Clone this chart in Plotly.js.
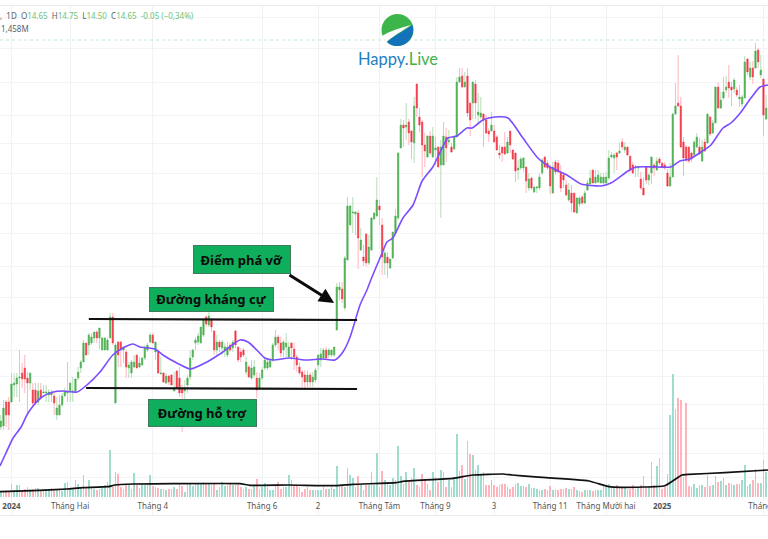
<!DOCTYPE html>
<html><head><meta charset="utf-8">
<script src="https://cdn.plot.ly/plotly-3.0.1.min.js"></script>
<style>html,body{margin:0;padding:0;background:#fff}#c{width:768px;height:539px}</style>
</head><body><div id="c"></div>
<script>
const high=[7.15,7.45,7.45,7.51,7.99,7.99,7.99,8.45,8.19,8.35,
8.01,7.99,7.79,7.79,7.79,7.79,7.75,7.75,7.67,7.65,
7.61,7.51,7.55,7.59,7.69,8.21,7.79,7.91,7.89,8.11,
8.25,8.65,8.59,8.79,8.79,8.81,8.85,8.89,8.71,8.71,
8.69,9.19,9.19,8.59,8.63,8.63,8.51,8.45,8.21,8.25,
8.35,8.35,8.31,8.31,8.55,8.59,8.79,8.79,8.61,8.45,
8.31,8.01,7.99,7.95,7.97,8.01,8.05,8.11,7.75,7.85,
7.95,8.45,8.47,8.71,8.79,8.91,9.09,9.15,9.25,9.09,
8.85,8.75,8.65,8.65,8.59,8.61,8.59,8.65,8.85,8.51,
8.49,8.49,8.31,8.15,8.25,8.25,8.01,7.99,8.11,8.29,
8.29,8.29,8.59,8.85,8.75,8.71,8.65,8.79,8.61,8.61,
8.59,8.35,8.21,8.05,8.05,8.05,8.01,8.01,8.09,8.35,
8.49,8.49,8.51,8.49,8.47,8.51,9.79,9.81,9.81,10.33,
11.51,11.35,11.51,11.23,11.25,10.89,10.55,10.79,10.75,11.11,
11.21,11.91,11.45,11.09,10.45,10.41,10.29,10.81,11.27,12.39,
13.07,13.05,13.39,13.07,12.85,13.51,13.77,13.29,13.05,12.79,
12.75,12.83,12.91,12.71,12.51,12.65,13.01,12.89,12.85,12.59,
12.71,13.91,14.09,14.09,14.01,14.09,13.39,13.81,13.85,13.59,
13.51,13.19,13.15,12.89,13.21,12.95,12.75,12.55,12.51,12.81,
12.71,12.83,12.45,12.39,12.25,12.31,12.31,12.11,11.99,11.91,
11.71,11.73,11.99,12.29,12.33,12.25,12.15,12.21,12.25,12.25,
12.15,11.99,11.85,11.79,11.75,11.59,11.51,11.53,11.55,11.65,
11.85,12.05,12.05,12.05,12.05,11.99,11.99,12.01,12.45,12.41,
12.39,12.41,12.59,12.69,12.61,12.51,12.33,12.21,12.15,12.13,
12.01,11.91,12.11,11.99,12.31,12.19,12.31,12.31,12.21,12.21,
12.07,12.19,13.19,13.79,14.35,13.51,12.71,12.55,12.51,12.41,
12.65,12.79,12.69,12.65,12.69,13.17,13.13,13.05,13.71,13.81,
13.61,13.91,13.93,14.15,13.81,13.89,13.71,13.75,13.55,14.33,
14.29,14.21,14.23,14.59,14.49,14.35,13.87,13.55];
const low=[6.85,6.85,6.91,6.85,7.39,7.51,7.51,7.41,7.69,7.59,
7.15,7.65,7.31,7.35,7.35,7.45,7.59,7.41,7.41,7.41,
7.15,7.05,7.15,7.31,7.53,7.41,7.41,7.41,7.61,7.85,
7.99,8.21,8.35,8.35,8.55,8.59,8.59,8.47,8.45,8.45,
8.45,8.69,8.55,7.39,8.11,8.11,8.19,7.89,7.89,7.89,
8.09,8.09,8.09,8.13,8.25,8.41,8.59,8.59,8.25,7.97,
7.97,7.79,7.77,7.75,7.75,7.63,7.69,7.51,6.81,7.45,
7.59,7.85,8.25,8.45,8.55,8.59,8.71,8.91,8.91,8.81,
8.35,8.35,8.41,8.35,8.31,8.31,8.41,8.41,8.49,8.21,
8.21,8.31,7.95,7.89,7.85,7.89,7.49,7.65,7.85,8.05,
8.05,8.09,8.21,8.51,8.45,8.31,8.31,8.31,8.29,8.25,
8.05,8.01,7.95,7.71,7.69,7.71,7.71,7.71,7.79,8.05,
8.11,8.25,8.25,8.29,8.31,8.31,8.85,9.45,9.39,9.25,
10.25,10.95,10.79,10.75,10.07,10.43,10.13,10.11,10.15,10.43,
11.05,11.11,10.95,9.95,9.95,9.89,10.07,10.27,10.77,11.05,
12.49,12.51,12.65,12.55,12.27,12.19,13.11,12.81,11.91,12.11,
12.29,12.35,12.29,12.15,12.11,11.09,12.15,12.21,12.55,12.39,
12.45,12.71,13.79,13.69,13.71,13.11,12.73,13.07,13.07,12.95,
13.07,12.51,12.77,12.61,12.83,12.59,12.43,12.27,12.21,12.35,
12.37,12.39,12.25,11.81,11.85,12.05,12.01,11.59,11.63,11.65,
11.59,11.59,11.65,11.95,12.09,12.05,11.57,11.57,11.95,11.99,
11.61,11.69,11.53,11.41,11.21,11.19,11.19,11.31,11.35,11.37,
11.63,11.75,11.79,11.79,11.79,11.79,11.77,11.77,11.85,12.29,
11.99,12.05,12.37,12.45,12.39,12.33,12.01,11.97,11.91,11.91,
11.65,11.55,11.77,11.75,11.77,11.93,12.03,12.15,12.09,12.05,
11.71,11.71,11.91,13.15,13.31,12.49,11.93,12.21,12.19,12.21,
12.29,12.49,12.35,12.21,12.41,12.57,12.73,12.77,12.99,13.27,
13.27,13.45,13.59,13.49,13.33,13.59,13.51,13.31,13.31,13.49,
13.95,13.85,13.77,14.07,14.09,13.89,12.73,13.05];
const bodyTop=[7.03,7.29,7.41,7.41,7.77,7.79,7.89,7.91,7.99,8.09,
7.89,7.99,7.65,7.65,7.63,7.65,7.61,7.61,7.61,7.61,
7.53,7.29,7.35,7.53,7.61,7.61,7.79,7.63,7.87,8.01,
8.21,8.59,8.59,8.75,8.71,8.81,8.81,8.89,8.69,8.69,
8.65,9.11,9.11,8.55,8.61,8.61,8.51,8.41,8.15,8.21,
8.21,8.35,8.19,8.29,8.49,8.55,8.75,8.75,8.61,8.41,
7.99,7.99,7.93,7.93,7.95,7.69,8.03,7.89,7.69,7.69,
7.89,8.29,8.45,8.65,8.73,8.91,9.05,9.11,9.13,9.05,
8.83,8.61,8.61,8.61,8.51,8.51,8.55,8.61,8.83,8.51,
8.41,8.45,8.21,8.11,8.09,8.11,7.89,7.89,8.05,8.25,
8.21,8.23,8.55,8.71,8.71,8.59,8.61,8.59,8.51,8.59,
8.47,8.31,8.11,8.01,7.95,7.95,7.95,7.91,8.05,8.35,
8.37,8.45,8.45,8.45,8.45,8.51,9.71,9.71,9.67,10.29,
11.33,11.33,11.21,11.21,11.19,10.65,10.31,10.77,10.51,11.09,
11.19,11.45,11.33,10.95,10.39,10.31,10.27,10.81,11.13,12.39,
12.95,12.95,12.95,13.01,12.83,13.33,13.77,13.11,13.01,12.55,
12.73,12.73,12.73,12.49,12.51,12.51,12.73,12.71,12.65,12.51,
12.71,13.81,13.91,13.93,13.81,13.93,13.39,13.81,13.77,13.21,
13.19,13.17,13.05,12.83,12.95,12.83,12.71,12.39,12.51,12.51,
12.61,12.83,12.45,12.39,12.09,12.27,12.29,12.11,11.87,11.89,
11.71,11.71,11.91,12.25,12.31,12.19,12.11,12.11,12.21,12.19,
11.99,11.95,11.75,11.65,11.59,11.59,11.49,11.49,11.51,11.59,
11.79,11.89,12.05,11.91,11.95,11.91,11.91,11.91,12.29,12.35,
12.35,12.39,12.43,12.61,12.51,12.51,12.33,12.15,12.11,12.11,
11.87,11.69,12.11,11.95,12.31,12.15,12.23,12.27,12.19,12.15,
11.99,11.91,13.17,13.33,13.39,13.33,12.61,12.51,12.51,12.39,
12.61,12.71,12.51,12.51,12.61,13.17,13.11,12.99,13.71,13.71,
13.45,13.61,13.71,13.81,13.71,13.85,13.65,13.51,13.51,14.21,
14.27,14.09,14.09,14.43,14.45,14.05,13.87,13.29];
const bodyBottom=[6.91,6.93,7.15,7.15,7.41,7.75,7.77,7.89,7.87,7.87,
7.79,7.79,7.39,7.39,7.41,7.49,7.59,7.59,7.55,7.55,
7.39,7.15,7.15,7.35,7.53,7.59,7.63,7.61,7.63,7.89,
8.09,8.21,8.35,8.55,8.59,8.69,8.69,8.69,8.45,8.45,
8.45,8.69,8.59,7.39,8.35,8.45,8.45,8.11,8.09,7.99,
8.11,8.09,8.11,8.15,8.29,8.45,8.61,8.59,8.41,7.99,
7.97,7.81,7.79,7.81,7.75,7.63,7.69,7.59,7.59,7.63,
7.75,7.91,8.31,8.59,8.61,8.59,8.75,8.97,8.95,8.91,
8.45,8.45,8.51,8.49,8.45,8.35,8.45,8.49,8.55,8.25,
8.31,8.35,8.01,7.91,7.89,7.95,7.65,7.69,7.89,8.09,
8.09,8.11,8.25,8.55,8.59,8.39,8.45,8.51,8.31,8.49,
8.31,8.15,7.99,7.91,7.81,7.81,7.81,7.81,7.85,8.15,
8.25,8.29,8.29,8.35,8.35,8.35,8.85,9.65,9.47,9.29,
10.25,10.95,11.19,11.17,10.69,10.45,10.23,10.19,10.19,10.45,
11.07,11.13,11.25,10.31,10.19,10.19,10.09,10.29,10.79,11.09,
12.49,12.89,12.91,12.79,12.61,12.59,13.29,12.95,12.55,12.43,
12.31,12.39,12.31,12.45,12.11,12.15,12.15,12.49,12.61,12.41,
12.47,12.71,13.81,13.71,13.71,13.19,13.05,13.39,13.39,13.15,
13.11,13.05,12.79,12.77,12.83,12.61,12.45,12.35,12.39,12.37,
12.39,12.55,12.27,12.03,12.05,12.09,12.09,11.83,11.69,11.69,
11.61,11.69,11.69,11.99,12.11,12.09,11.73,11.59,12.01,12.01,
11.69,11.85,11.55,11.45,11.39,11.21,11.19,11.37,11.39,11.39,
11.65,11.77,11.79,11.79,11.81,11.79,11.79,11.79,11.89,12.31,
12.29,12.31,12.39,12.51,12.45,12.35,12.05,11.99,12.09,12.09,
11.69,11.55,11.85,11.85,11.99,12.09,12.05,12.19,12.11,12.09,
11.73,11.73,11.91,13.17,13.33,12.51,12.29,12.25,12.23,12.27,
12.35,12.51,12.37,12.23,12.43,12.59,12.77,12.79,12.99,13.29,
13.29,13.49,13.65,13.69,13.65,13.67,13.55,13.47,13.37,13.49,
14.01,13.91,13.91,14.09,14.21,13.95,13.15,13.07];
const direction=("GGRRGGGGRR RGRRGRGGGG RGGGGGGGGG GGRGGGRGGG GGRGRRGRGG GRGGGGGRGR GRGRRGRRRG GGGGGGGRGR RGRGGGRGRR RRGRGGRGGG GGGGRRGGGR RRRRRGRGGG GGRGGGGGRG GGGGRGRRGG GGRRGRGGGG GRGRRGRRRR GRGGRGGRGR GGGRGRRGRG GRRRGRRRRR GRRRGGGRGR GGGGRRRGRR RRRGRRGGRG GGRGGGGGGG GRGRGRRRGG RRRGGRGRRR RGGGRRRRRR GGRGRGRGGR GGGRRGRGGG RGRGRGRG").replace(/ /g,"").split("");
const volume=[0.5,0.5,0.5,0.5,1.3,0.7,1.2,1.2,0.7,0.8,
1.0,0.8,0.8,0.9,0.9,0.7,0.7,0.7,0.8,0.9,
0.8,0.7,0.7,0.6,1.4,1.5,0.8,0.9,1.7,1.3,
1.0,2.2,0.8,1.7,1.0,0.8,0.7,0.8,1.0,1.2,
1.5,4.7,1.0,2.5,2.3,1.0,0.8,1.3,1.2,0.8,
2.4,1.2,0.9,1.3,1.2,1.4,2.2,1.1,1.0,0.9,
0.8,0.8,0.7,0.8,0.8,1.0,0.8,1.3,1.1,0.5,
1.4,1.3,1.1,1.4,1.3,1.4,1.5,1.3,1.3,1.2,
1.3,0.7,1.0,1.5,1.1,1.2,1.3,1.2,1.2,1.2,
1.0,0.8,1.0,0.8,0.8,1.2,1.8,0.8,1.0,1.4,
1.0,0.7,0.7,1.2,1.5,0.8,1.0,1.0,2.2,1.7,
1.2,1.2,1.0,0.5,0.8,1.0,0.7,0.7,0.7,0.7,
0.7,1.0,0.8,0.8,1.0,0.8,3.1,1.2,1.2,1.0,
2.9,2.2,1.9,1.0,2.1,1.2,0.7,1.2,1.2,2.5,
1.2,4.4,1.0,2.6,1.7,1.3,1.2,1.9,1.7,5.1,
2.1,1.3,2.5,1.5,1.9,2.9,1.2,1.0,2.3,1.8,
1.3,0.7,2.5,2.0,1.5,2.7,2.5,1.0,1.7,1.0,
2.0,6.3,2.6,3.2,1.8,5.6,4.3,4.2,2.7,3.2,
2.2,2.5,1.2,1.2,1.7,1.2,1.0,1.2,1.3,1.3,
1.0,0.8,1.0,1.3,1.4,1.1,1.1,1.0,1.3,0.9,
0.9,0.8,0.7,0.7,0.8,0.7,1.1,0.7,0.8,0.7,
0.8,0.8,0.9,0.8,0.8,1.0,0.7,0.6,0.5,0.7,
0.7,0.7,0.6,0.7,0.7,0.7,1.1,1.1,1.3,1.0,
0.9,1.2,0.9,0.9,0.9,0.8,0.8,1.2,0.8,1.0,
1.2,2.1,1.0,1.0,3.5,1.2,3.1,3.9,0.8,1.0,
2.3,8.2,12.3,8.8,9.9,9.7,2.0,9.4,1.1,1.0,
1.3,0.9,1.2,1.2,1.0,2.2,1.1,1.2,2.1,1.5,
1.6,1.9,1.2,1.4,1.3,1.2,1.3,1.3,1.7,3.2,
1.1,1.3,1.7,2.8,1.4,1.4,3.7,2.5];
const maBar=[-0.3,1.6,4.6,7.6,9.8,12.1,15.4,19.6,23.3,28.6,32.3,37.2,42,45.8,49.6,52.2,57.8,60.8,66,71,77.3,83.3,89.7,92.7,96,99,102,108.4,114,120.8,125.3,128.3,131,134.7,137.3,139.2,143,144.8,147,150.8,154.6,158,162,167.7,171,174.8,176.7,180.8,185.3,190.2,195.8,201.4,206,212.3,217.6,225,228.8,235.2,238.2,246.4,251.3,254.7,258.4,262.6,266.3,270.8,273.8,277.6,281.3,284.7,287.7];
const maPrice=[6.13,6.35,6.69,6.91,7.15,7.33,7.51,7.61,7.63,7.61,7.75,8.01,8.35,8.49,8.57,8.51,8.47,8.35,8.19,8.07,8.21,8.41,8.65,8.61,8.45,8.29,8.25,8.29,8.25,8.27,8.25,8.41,8.71,9.35,9.65,9.91,10.39,10.61,10.69,11.09,11.35,11.83,12.11,12.69,12.73,12.89,12.89,13.05,13.11,13.09,12.69,12.29,12.11,11.95,11.77,11.73,11.79,12.03,12.11,12.11,12.11,12.23,12.27,12.41,12.55,12.89,12.99,13.21,13.49,13.71,13.75];
const volMaBar=[-0.3,12.1,24.8,30.8,40.2,42.8,49.6,64.6,89.7,93.4,108,125.7,132,148.2,150.8,169.6,177,188.3,191.7,199.2,220.5,228,233,249,255.4,258,271.5,287.7];
const volMa=[0.53,0.63,0.80,0.93,1.03,1.20,1.30,1.33,1.33,1.17,1.20,1.13,1.27,1.43,1.57,1.87,2.2,2.3,2.2,2.03,1.6,1.03,0.97,1.13,2.2,2.27,2.43,2.7];
const tickBars=[4,26,57,98,119,142,163,185,206,227,248,286];
const tickLabels=["<b>2024</b>","Tháng Hai","Tháng 4","Tháng 6","2","Tháng Tám","Tháng 9","3","Tháng 11","Tháng Mười hai","<b>2025</b>","Tháng 3"];
const gridPrices=[15.11,14.49,13.81,13.15,12.59,11.99,11.39,10.79,10.13,9.51,8.99,8.45,7.93,7.37,6.89,6.39,5.91];
const lastClose=14.65;
const resistance={bars:[33,133.6],prices:[9.07,9.05]};
const support={bars:[32,133.6],prices:[7.69,7.67]};
const breakout={bar:125,price:9.39,tailBar:107.7,tailPrice:9.97};

const bars=high.map((_,i)=>i);
const open=direction.map((d,i)=>d==="G"?bodyBottom[i]:bodyTop[i]);
const close=direction.map((d,i)=>d==="G"?bodyTop[i]:bodyBottom[i]);
const W=768,H=539,MT=6,MB=24;
const px=x=>x/W, py=y=>(H-MB-y)/(H-MB-MT);
const path=(segs)=>segs.map(s=>s[0]+" "+s.slice(1).map((v,i)=>(i%2?py(v):px(v)).toFixed(5)).join(" ")).join(" ")+" Z";
const GREEN="#4caf50",RED="#f23645",LG="#b4deb6",LR="#ffb4bc";
const font="'Noto Sans','Open Sans',sans-serif";

const traces=[
 {type:"bar",x:bars,y:volume,yaxis:"y2",width:0.62,marker:{color:direction.map(d=>d==="G"?"#a0dccd":"#ffb3ba"),line:{width:0}},hoverinfo:"skip"},
 {type:"scatter",mode:"lines",x:volMaBar,y:volMa,yaxis:"y2",line:{color:"#111",width:1.7,shape:"spline",smoothing:0.4},hoverinfo:"skip"},
 {type:"candlestick",x:bars,open,high,low,close,
  increasing:{line:{color:LG,width:1},fillcolor:LG},decreasing:{line:{color:LR,width:1},fillcolor:LR},whiskerwidth:0,hoverinfo:"skip"},
 {type:"candlestick",x:bars,open,close,high:bodyTop,low:bodyBottom,
  increasing:{line:{color:GREEN,width:0.3},fillcolor:GREEN},decreasing:{line:{color:RED,width:0.3},fillcolor:RED},whiskerwidth:0,hoverinfo:"skip"},
 {type:"scatter",mode:"lines",x:maBar,y:maPrice,line:{color:"#7c4dff",width:1.6,shape:"spline",smoothing:0.6},hoverinfo:"skip"}
];
const boxAnn=(text,x0,x1,y0,y1)=>({text:"<b>"+text+"</b>",xref:"paper",yref:"paper",x:px((x0+x1)/2),y:py((y0+y1)/2),xanchor:"center",yanchor:"middle",showarrow:false,width:x1-x0-2,height:y1-y0-2,bgcolor:"#0fae5d",bordercolor:"#3f7a5c",borderwidth:1,font:{family:font,size:13,color:"#0a0a0a"}});
const lab=(s)=>"<span style='color:#5a5f6a'>"+s+"</span>", val=(s)=>"<span style='color:#6cc47c'>"+s+"</span>";
const layout={
 width:W,height:H,margin:{l:0,r:0,t:MT,b:MB,pad:0},paper_bgcolor:"#fff",plot_bgcolor:"#fff",showlegend:false,bargap:0,
 xaxis:{range:[-0.3,287.7],tickmode:"array",tickvals:tickBars,ticktext:tickLabels,ticklabelposition:"inside",ticklabeloverflow:"allow",ticks:"inside",ticklen:3,tickcolor:"rgba(0,0,0,0)",
  tickfont:{family:font,size:8,color:"#555"},showgrid:true,gridcolor:"#f0f2f5",gridwidth:1,showline:true,mirror:true,linecolor:"#e8eaef",linewidth:1,zeroline:false,rangeslider:{visible:false},fixedrange:true},
 yaxis:{range:[5.15,15.33],tickmode:"array",tickvals:gridPrices,showticklabels:false,ticks:"",showgrid:true,gridcolor:"#f3f4f7",gridwidth:1,zeroline:false,fixedrange:true},
 yaxis2:{range:[-1.8,49.1],overlaying:"y",side:"right",showgrid:false,showticklabels:false,ticks:"",zeroline:false,fixedrange:true},
 shapes:[
  {type:"line",xref:"paper",yref:"y",x0:0,x1:1,y0:lastClose,y1:lastClose,line:{color:"#b5dfbc",width:0.8,dash:"dot"}},
  {type:"line",xref:"x",yref:"y",x0:resistance.bars[0],x1:resistance.bars[1],y0:resistance.prices[0],y1:resistance.prices[1],line:{color:"#111",width:2.2}},
  {type:"line",xref:"x",yref:"y",x0:support.bars[0],x1:support.bars[1],y0:support.prices[0],y1:support.prices[1],line:{color:"#111",width:2.2}},
  {type:"circle",xref:"paper",yref:"paper",x0:px(381.5),x1:px(413.5),y0:py(46),y1:py(14),fillcolor:"#3db54a",line:{width:0}},
  {type:"path",xref:"paper",yref:"paper",path:path([["M",387,42],["C",392,37,402,32,412.5,25],["C",414.5,32,412,40,405,44],["C",398,47.5,391,46.5,387,42]]),fillcolor:"#1273bb",line:{width:0}},
  {type:"path",xref:"paper",yref:"paper",path:path([["M",382,36],["C",390,31,400,28,411,25],["C",402,31,392,37,386.5,42],["C",384.5,40,383,38,382,36]]),fillcolor:"#ffffff",line:{width:0}}
 ],
 annotations:[
  boxAnn("Điểm phá vỡ",194.5,290,246,273),
  boxAnn("Đường kháng cự",150,273,288.5,311),
  boxAnn("Đường hỗ trợ",149,256,400,426),
  {xref:"x",yref:"y",axref:"x",ayref:"y",x:breakout.bar,y:breakout.price,ax:breakout.tailBar,ay:breakout.tailPrice,text:"",showarrow:true,arrowhead:2,arrowsize:1,arrowwidth:3,arrowcolor:"#0a0a0a"},
  {xref:"paper",yref:"paper",x:0,y:py(16),xanchor:"left",yanchor:"middle",showarrow:false,xshift:-2,font:{family:font,size:8},
   text:lab(",  1D  O")+val("14.65")+lab("  H")+val("14.75")+lab("  L")+val("14.50")+lab("  C")+val("14.65")+val("  -0.05 (−0,34%)")},
  {xref:"paper",yref:"paper",x:0,y:py(28),xanchor:"left",yanchor:"middle",showarrow:false,xshift:-1,font:{family:font,size:8,color:"#5a5f6a"},text:"1,458M"},
  {xref:"paper",yref:"paper",x:px(398),y:py(59),xanchor:"center",yanchor:"middle",showarrow:false,font:{family:"Lato,'Noto Sans',sans-serif",size:16.5},
   text:"<span style='color:#1f7fc4'>Happy.</span><span style='color:#3db54a'>Live</span>"}
 ]
};
Plotly.newPlot("c",traces,layout,{displayModeBar:false,staticPlot:true});
</script></body></html>
